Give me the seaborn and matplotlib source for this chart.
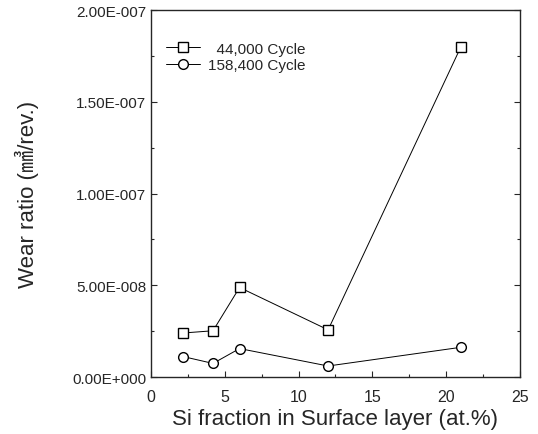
import matplotlib
matplotlib.use("Agg")
import matplotlib.pyplot as plt
import seaborn as sns
import pandas as pd
from matplotlib.ticker import MultipleLocator, FuncFormatter

si_frac_a = [2.2, 4.2, 6.0, 12.0, 21.0]
wear_a = [2.40e-8, 2.52e-8, 4.88e-8, 2.57e-8, 1.80e-7]
si_frac_b = [2.2, 4.2, 6.0, 12.0, 21.0]
wear_b = [1.11e-8, 0.74e-8, 1.55e-8, 0.60e-8, 1.62e-8]
series_names = ["  44,000 Cycle", "158,400 Cycle"]

df = pd.concat([
    pd.DataFrame({"x": si_frac_a, "y": wear_a, "s": series_names[0]}),
    pd.DataFrame({"x": si_frac_b, "y": wear_b, "s": series_names[1]}),
])

sns.set_style("ticks")
plt.rcParams['font.family'] = ['Liberation Sans', 'Noto Sans CJK JP', 'DejaVu Sans']

fig = plt.figure(figsize=(5.38, 4.35), dpi=100)
ax = fig.add_axes([0.2807, 0.131, 0.6858, 0.8437])

sns.lineplot(data=df, x="x", y="y", style="s", hue="s",
             palette=["black", "black"], markers=["s", "o"], dashes=False,
             markersize=7, markerfacecolor="white", markeredgecolor="black",
             markeredgewidth=1.0, linewidth=0.7, ax=ax, legend=True)

ax.set_xlim(0, 25)
ax.set_ylim(0, 2.0e-7)
ax.xaxis.set_major_locator(MultipleLocator(5))
ax.xaxis.set_minor_locator(MultipleLocator(2.5))
ax.yaxis.set_major_locator(MultipleLocator(5e-8))
ax.yaxis.set_minor_locator(MultipleLocator(2.5e-8))

def fmt(v, pos):
    if abs(v) < 1e-20:
        return "0.00E+000"
    s = "%.2E" % v
    mant, exp = s.split("E")
    e = int(exp)
    sign = "-" if e < 0 else "+"
    return "%sE%s%03d" % (mant, sign, abs(e))

ax.yaxis.set_major_formatter(FuncFormatter(fmt))
ax.tick_params(which="both", direction="in", right=True, top=False, labelsize=11, width=0.8)
ax.tick_params(which="major", length=4)
ax.tick_params(which="minor", length=2.5)
ax.tick_params(axis="x", labelsize=11.5, pad=8.5)
for sp in ax.spines.values():
    sp.set_visible(True)
    sp.set_linewidth(1.0)

ax.set_xlabel("Si fraction in Surface layer (at.%)", fontsize=16, labelpad=3)
ax.set_ylabel("Wear ratio (㎣/rev.)", fontsize=16, labelpad=24)

leg = ax.legend(loc="upper left", frameon=False, fontsize=11, handlelength=2.2,
                borderaxespad=0.6, labelspacing=0.15, handletextpad=0.5,
                bbox_to_anchor=(0.0, 0.955))

fig.savefig("out.png", dpi=100)
